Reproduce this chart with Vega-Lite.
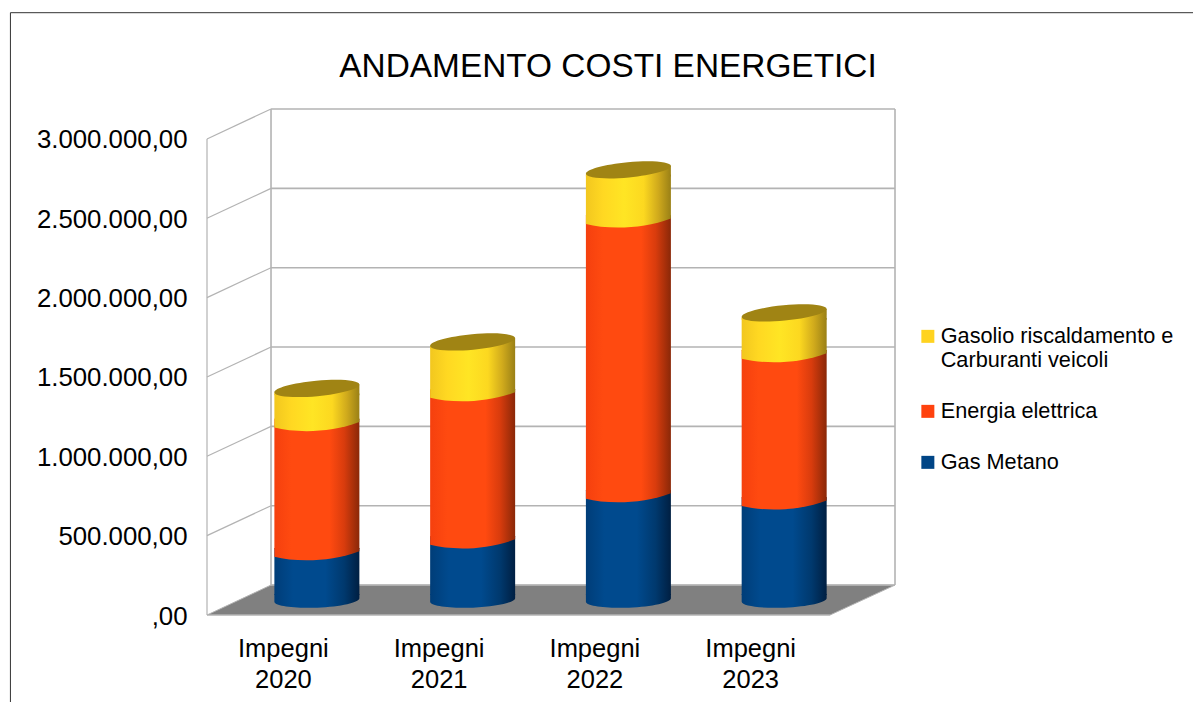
{
"$schema":"https://vega.github.io/schema/vega-lite/v6.json",
"width":688,"height":506,
"autosize":{"type":"none"},
"padding":{"left":207,"top":109,"right":298,"bottom":87},
"background":"white",
"title":{"text":"ANDAMENTO COSTI ENERGETICI","anchor":"middle","dx":57,"offset":-72,"fontSize":33.4,"font":"Liberation Sans","fontWeight":"normal","color":"#000000"},
"config":{"view":{"stroke":null},"font":"Liberation Sans"},
"datasets":{
"floor":[{"x":-0.5,"lo":0,"hi":0},{"x":-0.089,"lo":0,"hi":188680},{"x":3.5,"lo":0,"hi":188680},{"x":3.917,"lo":188680,"hi":188680}],
"frame":[{"x":-1.762,"x2":-1.762,"y":-560000,"y2":3795600},{"x":-1.762,"x2":5.85,"y":3795600,"y2":3795600}],
"wall":[
{"x":-0.5,"x2":-0.5,"y":0,"y2":3000000},
{"x":-0.5,"x2":-0.089,"y":500000,"y2":688680},
{"x":-0.5,"x2":-0.089,"y":1000000,"y2":1188680},
{"x":-0.5,"x2":-0.089,"y":1500000,"y2":1688680},
{"x":-0.5,"x2":-0.089,"y":2000000,"y2":2188680},
{"x":-0.5,"x2":-0.089,"y":2500000,"y2":2688680},
{"x":-0.5,"x2":-0.089,"y":3000000,"y2":3188680},
{"x":-0.5,"x2":3.5,"y":0,"y2":0}
],
"back":[
{"x":-0.089,"x2":3.917,"y":188680,"y2":188680},
{"x":-0.089,"x2":3.917,"y":688680,"y2":688680},
{"x":-0.089,"x2":3.917,"y":1188680,"y2":1188680},
{"x":-0.089,"x2":3.917,"y":1688680,"y2":1688680},
{"x":-0.089,"x2":3.917,"y":2188680,"y2":2188680},
{"x":-0.089,"x2":3.917,"y":2688680,"y2":2688680},
{"x":-0.089,"x2":3.917,"y":3188680,"y2":3188680},
{"x":-0.089,"x2":-0.089,"y":188680,"y2":3188680},
{"x":3.917,"x2":3.917,"y":188680,"y2":3188680}
],
"costi":[
{"slot":0,"anno":"Impegni 2020","voce":"Gas Metano","ord":1,"valore":290000},
{"slot":0,"anno":"Impegni 2020","voce":"Energia elettrica","ord":2,"valore":814000},
{"slot":0,"anno":"Impegni 2020","voce":"Gasolio riscaldamento e Carburanti veicoli","ord":3,"valore":229000},
{"slot":1,"anno":"Impegni 2021","voce":"Gas Metano","ord":1,"valore":365000},
{"slot":1,"anno":"Impegni 2021","voce":"Energia elettrica","ord":2,"valore":927000},
{"slot":1,"anno":"Impegni 2021","voce":"Gasolio riscaldamento e Carburanti veicoli","ord":3,"valore":334000},
{"slot":2,"anno":"Impegni 2022","voce":"Gas Metano","ord":1,"valore":656000},
{"slot":2,"anno":"Impegni 2022","voce":"Energia elettrica","ord":2,"valore":1731000},
{"slot":2,"anno":"Impegni 2022","voce":"Gasolio riscaldamento e Carburanti veicoli","ord":3,"valore":324000},
{"slot":3,"anno":"Impegni 2023","voce":"Gas Metano","ord":1,"valore":610000},
{"slot":3,"anno":"Impegni 2023","voce":"Energia elettrica","ord":2,"valore":928000},
{"slot":3,"anno":"Impegni 2023","voce":"Gasolio riscaldamento e Carburanti veicoli","ord":3,"valore":271000}
]
},
"layer":[
{"data":{"name":"frame"},"mark":{"type":"rule","stroke":"#333333","strokeWidth":1,"clip":false},
 "encoding":{
  "x":{"field":"x","type":"quantitative","scale":{"domain":[-0.5,3.917],"nice":false,"zero":false,"padding":0},
    "axis":{"values":[0,1,2,3],"title":null,"domain":false,"ticks":false,"grid":false,"labelFont":"Liberation Sans","labelFontSize":25.5,"labelColor":"#000000","labelPadding":21,"labelOffset":-2,"labelLineHeight":31,"labelExpr":"['Impegni', toString(2020+datum.value)]"}},
  "x2":{"field":"x2"},
  "y":{"field":"y","type":"quantitative","scale":{"domain":[0,3188680],"nice":false,"zero":false},
    "axis":{"values":[0,500000,1000000,1500000,2000000,2500000,3000000],"title":null,"domain":false,"ticks":false,"grid":false,"labelFont":"Liberation Sans","labelFontSize":25.8,"labelColor":"#000000","labelPadding":20,"labelOffset":1,"labelExpr":"datum.value==0 ? ',00' : replace(format(datum.value,','),/,/g,'.')+',00'"}},
  "y2":{"field":"y2"}}},
{"data":{"name":"floor"},"mark":{"type":"area","fill":"#808080","stroke":"#b3b3b3","strokeWidth":1,"opacity":1,"clip":false},
 "encoding":{"x":{"field":"x","type":"quantitative","title":null},"y":{"field":"lo","type":"quantitative","title":null},"y2":{"field":"hi"}}},
{"data":{"name":"wall"},"mark":{"type":"rule","stroke":"#b3b3b3","strokeWidth":1.2},
 "encoding":{"x":{"field":"x","type":"quantitative","title":null},"x2":{"field":"x2"},"y":{"field":"y","type":"quantitative","title":null},"y2":{"field":"y2"}}},
{"data":{"name":"back"},"mark":{"type":"rule","stroke":"#b3b3b3","strokeWidth":1.6},
 "encoding":{"x":{"field":"x","type":"quantitative","title":null},"x2":{"field":"x2"},"y":{"field":"y","type":"quantitative","title":null},"y2":{"field":"y2"}}},
{"data":{"name":"costi"},
 "transform":[{"stack":"valore","groupby":["slot"],"sort":[{"field":"ord","order":"ascending"}],"as":["v0","v1"]}],
 "encoding":{"x":{"field":"slot","type":"quantitative","title":null}},
 "layer":[
 {"mark":{"type":"bar","orient":"vertical","size":78,"xOffset":32,"yOffset":-12,"y2Offset":-20},
  "encoding":{"y":{"field":"v1","type":"quantitative","title":null},"y2":{"field":"v0"},
   "color":{"field":"voce","type":"nominal","scale":{"domain":["Gasolio riscaldamento e Carburanti veicoli","Energia elettrica","Gas Metano"],"range":["#ffd320","#ff420e","#004586"]},
    "legend":{"title":null,"orient":"none","legendX":710,"legendY":216.5,"symbolType":"square","symbolSize":169,"symbolStrokeWidth":0,"labelFont":"Liberation Sans","labelFontSize":21.7,"labelColor":"#000000","labelLimit":300,"labelOffset":2,"labelLineHeight":25,"rowPadding":28,"labelExpr":"datum.value=='Gasolio riscaldamento e Carburanti veicoli' ? ['Gasolio riscaldamento e','Carburanti veicoli'] : datum.label"}}}},
 {"transform":[{"filter":"datum.ord==1"}],"mark":{"type":"bar","orient":"vertical","size":85,"xOffset":32,"yOffset":-21,"y2Offset":-20,
   "fill":{"gradient":"linear","x1":0,"x2":1,"y1":0,"y2":0,"stops":[{"offset":0,"color":"#003d78"},{"offset":0.22,"color":"#004a8e"},{"offset":0.6,"color":"#004a8e"},{"offset":0.82,"color":"#00396e"},{"offset":1,"color":"#001f42"}]}},
  "encoding":{"y":{"field":"v1","type":"quantitative","title":null},"y2":{"field":"v0"}}},
 {"transform":[{"filter":"datum.ord==1"}],"mark":{"type":"point","filled":true,"opacity":1,"size":7225,"xOffset":32,"yOffset":-15,"shape":"M-1,-0.14L-1,0.044A1,0.18,-2.5,0,0,1,-0.044L1,-0.14Z",
   "fill":{"gradient":"linear","x1":0,"x2":1,"y1":0,"y2":0,"stops":[{"offset":0,"color":"#003d78"},{"offset":0.22,"color":"#004a8e"},{"offset":0.6,"color":"#004a8e"},{"offset":0.82,"color":"#00396e"},{"offset":1,"color":"#001f42"}]}},
  "encoding":{"y":{"field":"v0","type":"quantitative","title":null}}},
 {"transform":[{"filter":"datum.ord==2"}],"mark":{"type":"bar","orient":"vertical","size":85,"xOffset":32,"yOffset":-21,"y2Offset":-20,
   "fill":{"gradient":"linear","x1":0,"x2":1,"y1":0,"y2":0,"stops":[{"offset":0,"color":"#f5400e"},{"offset":0.2,"color":"#ff4a10"},{"offset":0.65,"color":"#ff4a10"},{"offset":0.82,"color":"#d93c0d"},{"offset":1,"color":"#8a2808"}]}},
  "encoding":{"y":{"field":"v1","type":"quantitative","title":null},"y2":{"field":"v0"}}},
 {"transform":[{"filter":"datum.ord==2"}],"mark":{"type":"point","filled":true,"opacity":1,"size":7225,"xOffset":32,"yOffset":-15,"shape":"M-1,-0.14L-1,0.065C-0.5,0.19,0.3,0.2,1,-0.065L1,-0.14Z",
   "fill":{"gradient":"linear","x1":0,"x2":1,"y1":0,"y2":0,"stops":[{"offset":0,"color":"#f5400e"},{"offset":0.2,"color":"#ff4a10"},{"offset":0.65,"color":"#ff4a10"},{"offset":0.82,"color":"#d93c0d"},{"offset":1,"color":"#8a2808"}]}},
  "encoding":{"y":{"field":"v0","type":"quantitative","title":null}}},
 {"transform":[{"filter":"datum.ord==3"}],"mark":{"type":"bar","orient":"vertical","size":85,"xOffset":32,"yOffset":-10,"y2Offset":-20,
   "fill":{"gradient":"linear","x1":0,"x2":1,"y1":0,"y2":0,"stops":[{"offset":0,"color":"#f2c71f"},{"offset":0.2,"color":"#ffd822"},{"offset":0.45,"color":"#ffe524"},{"offset":0.68,"color":"#fcd820"},{"offset":0.85,"color":"#d0aa1c"},{"offset":1,"color":"#9a8016"}]}},
  "encoding":{"y":{"field":"v1","type":"quantitative","title":null},"y2":{"field":"v0"}}},
 {"transform":[{"filter":"datum.ord==3"}],"mark":{"type":"point","filled":true,"opacity":1,"size":7225,"xOffset":32,"yOffset":-15,"shape":"M-1,-0.14L-1,0.065C-0.5,0.19,0.3,0.2,1,-0.065L1,-0.14Z",
   "fill":{"gradient":"linear","x1":0,"x2":1,"y1":0,"y2":0,"stops":[{"offset":0,"color":"#f2c71f"},{"offset":0.2,"color":"#ffd822"},{"offset":0.45,"color":"#ffe524"},{"offset":0.68,"color":"#fcd820"},{"offset":0.85,"color":"#d0aa1c"},{"offset":1,"color":"#9a8016"}]}},
  "encoding":{"y":{"field":"v0","type":"quantitative","title":null}}},
 {"transform":[{"filter":"datum.ord==3"}],"mark":{"type":"point","filled":true,"opacity":1,"size":7225,"xOffset":32,"yOffset":-15,"shape":"M-1,0.094L1,-0.094L1,0.16L-1,0.16Z",
   "fill":{"gradient":"linear","x1":0,"x2":1,"y1":0,"y2":0,"stops":[{"offset":0,"color":"#f2c71f"},{"offset":0.2,"color":"#ffd822"},{"offset":0.45,"color":"#ffe524"},{"offset":0.68,"color":"#fcd820"},{"offset":0.85,"color":"#d0aa1c"},{"offset":1,"color":"#9a8016"}]}},
  "encoding":{"y":{"field":"v1","type":"quantitative","title":null}}},
 {"transform":[{"filter":"datum.ord==3"}],"mark":{"type":"point","filled":true,"opacity":1,"size":7225,"xOffset":32,"yOffset":-15,"shape":"M-1,0.094A1,0.18,-5.4,1,1,1,-0.094A1,0.18,-5.4,1,1,-1,0.094Z","fill":"#a08414"},
  "encoding":{"y":{"field":"v1","type":"quantitative","title":null}}}
 ]}
]
}
